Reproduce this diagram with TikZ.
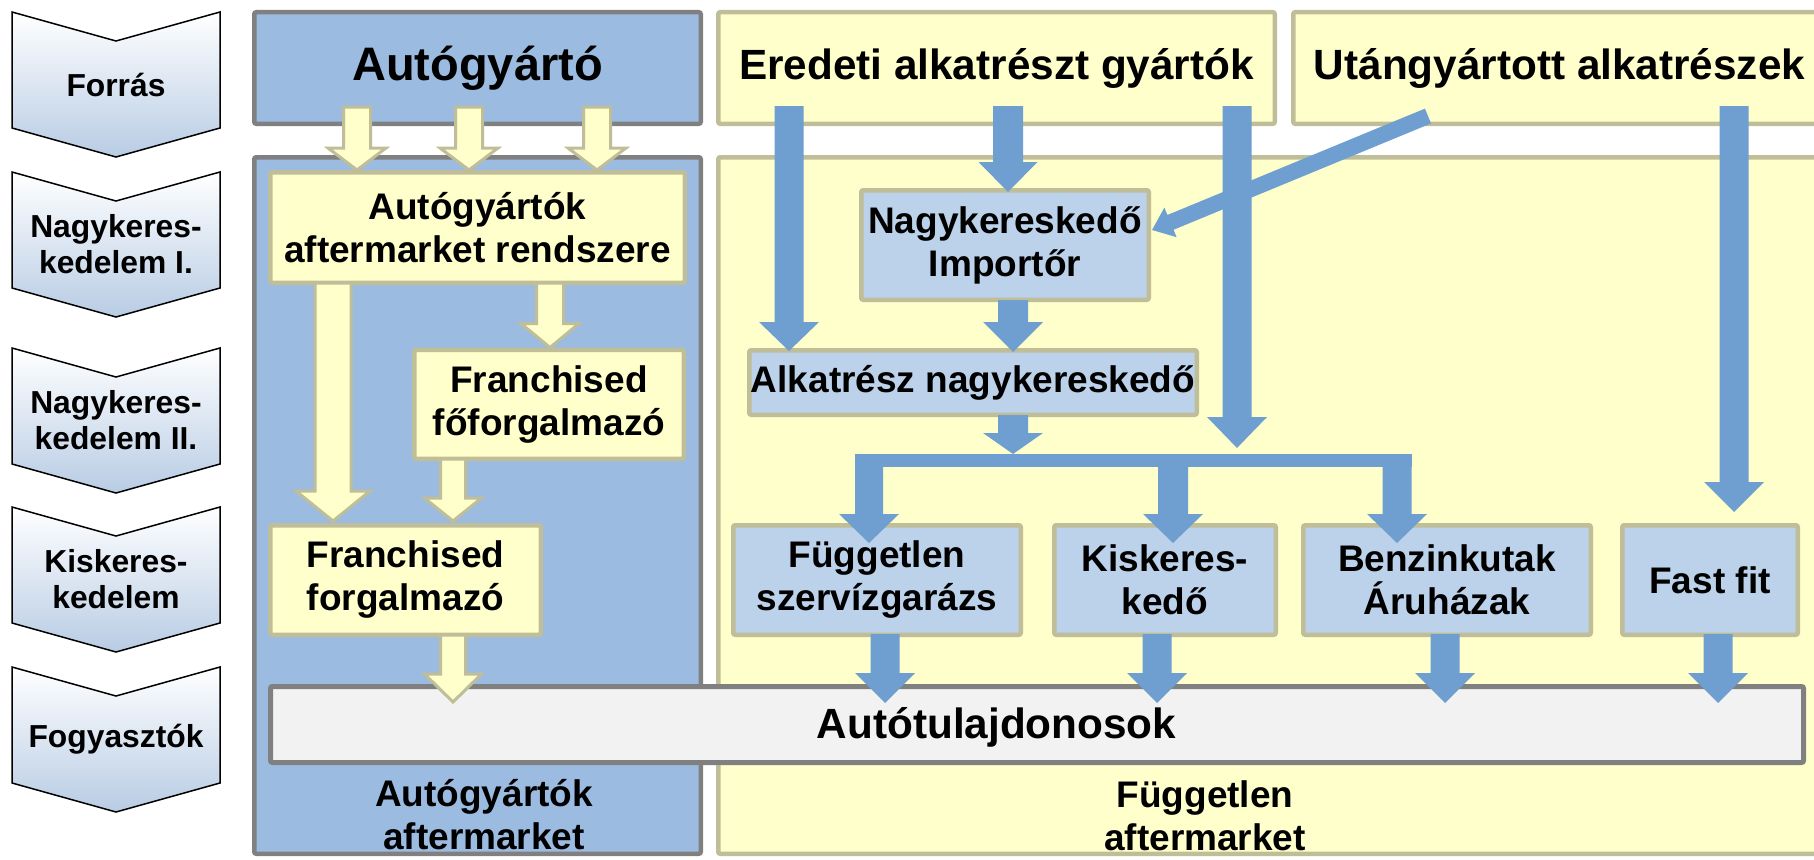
\documentclass[tikz,border=0pt]{standalone}
\usepackage{fontspec}
\setmainfont{Liberation Sans}
\usetikzlibrary{calc}
\definecolor{panelblue}{RGB}{155,187,224}
\definecolor{boxblue}{RGB}{188,210,234}
\definecolor{arrowblue}{RGB}{111,159,208}
\definecolor{lightyellow}{RGB}{255,255,204}
\definecolor{khaki}{RGB}{191,190,152}
\definecolor{framegray}{RGB}{128,128,128}
\definecolor{ownergray}{RGB}{242,242,242}
\definecolor{chevblue}{RGB}{184,204,228}
\newcommand\bxfont{\fontsize{37}{43}\selectfont\bfseries}
\newcommand\ttlfont{\fontsize{42.3}{50}\selectfont\bfseries}
\newcommand\chvfont{\fontsize{31.8}{36}\selectfont\bfseries}
% block arrow: style, start, end, half shaft, half head, head length
\newcommand\blockarr[6]{%
  \coordinate (ba-s) at #2;
  \coordinate (ba-e) at #3;
  \coordinate (ba-h) at ($(ba-e)!#6pt!(ba-s)$);
  \path[#1] ($(ba-s)!#4pt!90:(ba-e)$) -- ($(ba-h)!#4pt!-90:(ba-s)$) -- ($(ba-h)!#5pt!-90:(ba-s)$) -- (ba-e) -- ($(ba-h)!#5pt!90:(ba-s)$) -- ($(ba-h)!#4pt!90:(ba-s)$) -- ($(ba-s)!#4pt!-90:(ba-e)$) -- cycle;
}
\newcommand\chev[1]{\shadedraw[chevst] (12,#1) -- ++(104,29) -- ++(104,-29) -- ++(0,116) -- ++(-104,29) -- ++(-104,-29) -- cycle;}
\tikzset{
  chevst/.style={draw=black, line width=1.5pt, top color=white, bottom color=chevblue, line join=miter},
  chvtxt/.style={font=\chvfont, align=center, inner sep=0pt},
  panelB/.style={draw=framegray, line width=4.5pt, fill=panelblue, rounded corners=2pt, inner sep=0pt},
  panelY/.style={draw=khaki, line width=4.5pt, fill=lightyellow, rounded corners=2pt, inner sep=0pt},
  boxY/.style={draw=khaki, line width=4.5pt, fill=lightyellow, rounded corners=2pt, align=center, font=\bxfont, inner sep=0pt},
  boxB/.style={draw=khaki, line width=4.5pt, fill=boxblue, rounded corners=2pt, align=center, font=\bxfont, inner sep=0pt},
  ownerst/.style={draw=framegray, line width=5pt, fill=ownergray, rounded corners=2pt, inner sep=0pt},
  lbl/.style={font=\bxfont, align=center, inner sep=0pt},
  yarr/.style={fill=lightyellow, draw=khaki, line width=3pt, line join=miter},
  barr/.style={fill=arrowblue},
}
\begin{document}
\begin{tikzpicture}[x=1pt,y=-1pt]
\useasboundingbox (0,0) rectangle (1814,859);
\clip (0,0) rectangle (1814,859);
\fill[white] (0,0) rectangle (1814,859);

% stage chevrons
\chev{12}\chev{172}\chev{348}\chev{507}\chev{667}
\node[chvtxt] (c1) at (116,84.5) {Forrás};
\node[chvtxt] (c2) at (116,244) {Nagykeres-\\kedelem I.};
\node[chvtxt] (c3) at (116,420.5) {Nagykeres-\\kedelem II.};
\node[chvtxt] (c4) at (116,579.5) {Kiskeres-\\kedelem};
\node[chvtxt] (c5) at (116,739) {Fogyasztók};

% panels
\node[panelB, minimum width=446.5, minimum height=111.5, font=\fontsize{47}{52}\selectfont\bfseries] (auto) at (477.5,68) {Autógyártó};
\node[panelY, minimum width=556.5, minimum height=111.5, font=\ttlfont] (ered) at (996.5,68) {Eredeti alkatrészt gyártók};
\node[panelY, minimum width=532.5, minimum height=111.5, font=\ttlfont] (utan) at (1559.5,68) {Utángyártott alkatrészek};
\node[panelB, minimum width=446.5, minimum height=696.5] (bpanel) at (477.5,505.5) {};
\node[panelY, minimum width=1109.5, minimum height=696.5] (ypanel) at (1273,505.5) {};

% boxes
\node[boxY, minimum width=414.5, minimum height=110.5] (rend) at (477.5,227.5) {Autógyártók\\aftermarket rendszere};
\node[boxY, minimum width=269.5, minimum height=109] (ffo) at (549,404.25) {Franchised\\főforgalmazó};
\node[boxY, minimum width=270.5, minimum height=109.5] (ffg) at (405.5,580) {Franchised\\forgalmazó};
\node[boxB, minimum width=287.5, minimum height=109.5] (imp) at (1005,245) {Nagykereskedő\\Importőr};
\node[boxB, minimum width=447.5, minimum height=64.5] (alk) at (973,382.5) {Alkatrész nagykereskedő};
\node[boxB, minimum width=287.5, minimum height=109.5] (fug) at (877,580) {Független\\szervízgarázs};
\node[boxB, minimum width=221.5, minimum height=109.5] (kis) at (1165,580) {Kiskeres-\\kedő};
\node[boxB, minimum width=287.5, minimum height=109.5] (benz) at (1447,580) {Benzinkutak\\Áruházak};
\node[boxB, minimum width=175.5, minimum height=109.5] (fast) at (1710,580) {Fast fit};
\node[ownerst, minimum width=1533, minimum height=76] (owners) at (1037,724.5) {};
\node[font=\ttlfont, inner sep=0pt] (ownlbl) at (996.5,727) {Autótulajdonosok};

% bottom labels
\node[lbl] (lblA) at (484,814.5) {Autógyártók\\aftermarket};
\node[lbl] (lblF) at (1205,816) {Független\\aftermarket};

% split bar
\node[fill=arrowblue, minimum width=557, minimum height=13, inner sep=0pt, outer sep=0pt] (split) at (1133.5,460.5) {};

% yellow arrows
\blockarr{yarr}{($(auto.south)+(-120.5,-19)$)}{(ba-s |- rend.north)}{13.5}{29}{22}
\blockarr{yarr}{($(auto.south)+(-8.5,-19)$)}{(ba-s |- rend.north)}{13.5}{29}{22}
\blockarr{yarr}{($(auto.south)+(119.5,-19)$)}{(ba-s |- rend.north)}{13.5}{29}{22}
\blockarr{yarr}{($(rend.south)+(72.5,-2)$)}{(ba-s |- ffo.north)}{13.5}{29}{24}
\blockarr{yarr}{($(rend.south)+(-144.5,-2)$)}{($(ba-s |- ffg.north)+(0,-2)$)}{18}{37}{30}
\blockarr{yarr}{($(ffo.south)+(-96,-2)$)}{($(ba-s |- ffg.north)+(0,-2)$)}{12.5}{28.5}{23}
\blockarr{yarr}{($(ffg.south)+(47.5,-2)$)}{($(ba-s |- owners.north)+(0,18)$)}{12.5}{28.5}{28}

% blue arrows
\blockarr{barr}{($(ered.south)+(-207.5,-20)$)}{($(ba-s |- alk.north)+(0,3)$)}{14.5}{30}{29}
\blockarr{barr}{($(ered.south)+(11.5,-20)$)}{($(ba-s |- imp.north)+(0,4)$)}{15}{29.5}{30}
\blockarr{barr}{($(ered.south)+(240.5,-20)$)}{($(ba-s |- split.north)+(0,-6)$)}{14.5}{30}{31}
\blockarr{barr}{($(imp.south)+(8,-2)$)}{($(ba-s |- alk.north)+(0,4)$)}{15}{30}{30}
\blockarr{barr}{($(alk.south)+(40,-2)$)}{(ba-s |- split.north)}{15}{30}{21}
\blockarr{barr}{($(split.north west)+(14,0)$)}{($(ba-s |- fug.north)+(0,20)$)}{14}{30}{29}
\blockarr{barr}{($(split.north west)+(318,0)$)}{($(ba-s |- kis.north)+(0,20)$)}{15}{30}{29}
\blockarr{barr}{($(split.north east)+(-15,3)$)}{($(ba-s |- benz.north)+(0,20)$)}{14.5}{30}{29}
\blockarr{barr}{($(utan.south)+(174.5,-20)$)}{($(ba-s |- fast.north)+(0,-11)$)}{14.5}{30}{30}
\blockarr{barr}{($(utan.south)+(-131.5,-10)$)}{($(imp.east)+(1,-15)$)}{8}{16}{20}
\blockarr{barr}{($(fug.south)+(8,-3)$)}{($(ba-s |- owners.north)+(0,19)$)}{14.5}{30}{30}
\blockarr{barr}{($(kis.south)+(-8,-3)$)}{($(ba-s |- owners.north)+(0,19)$)}{14.5}{30}{30}
\blockarr{barr}{($(benz.south)+(-2,-3)$)}{($(ba-s |- owners.north)+(0,19)$)}{14.5}{30}{30}
\blockarr{barr}{($(fast.south)+(8,-3)$)}{($(ba-s |- owners.north)+(0,19)$)}{14.5}{30}{30}
\end{tikzpicture}
\end{document}
